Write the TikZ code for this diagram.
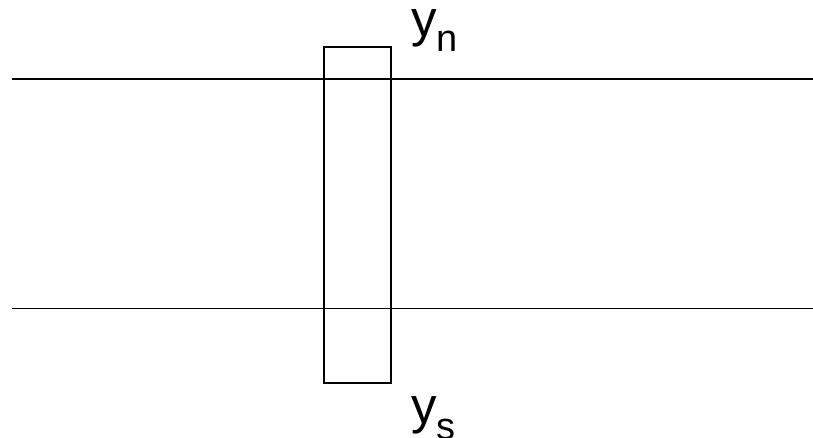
\documentclass[tikz,border=0pt]{standalone}
\usepackage{fontspec}
\setmainfont{Liberation Sans}
\tikzset{
    wire/.style={line width=1.4pt, draw=black},
    cellbox/.style={line width=1.4pt, draw=black},
    lbl/.style={anchor=base west, inner sep=0pt},
}
\newcommand{\biglbl}[2]{{\fontsize{51}{51}\selectfont #1}\raisebox{-15.5pt}{\fontsize{38}{38}\selectfont #2}}

\begin{document}
\begin{tikzpicture}[x=1pt, y=-1pt]
    \useasboundingbox (0,0) rectangle (813,438);
    % the two horizontal levels
    \coordinate (nwest) at (12,79);
    \coordinate (neast) at (813,79);
    \coordinate (swest) at (12,308.5);
    \coordinate (seast) at (813,308.5);
    \draw[wire] (nwest) -- (neast);
    \draw[wire] (swest) -- (seast);
    % the box crossing both
    \draw[cellbox] (324,47) rectangle (391,383);
    \node[lbl] (yn) at (411,36.5) {\biglbl{y}{n}};
    \node[lbl] (ys) at (411,423.5) {\biglbl{y}{s}};
\end{tikzpicture}
\end{document}
